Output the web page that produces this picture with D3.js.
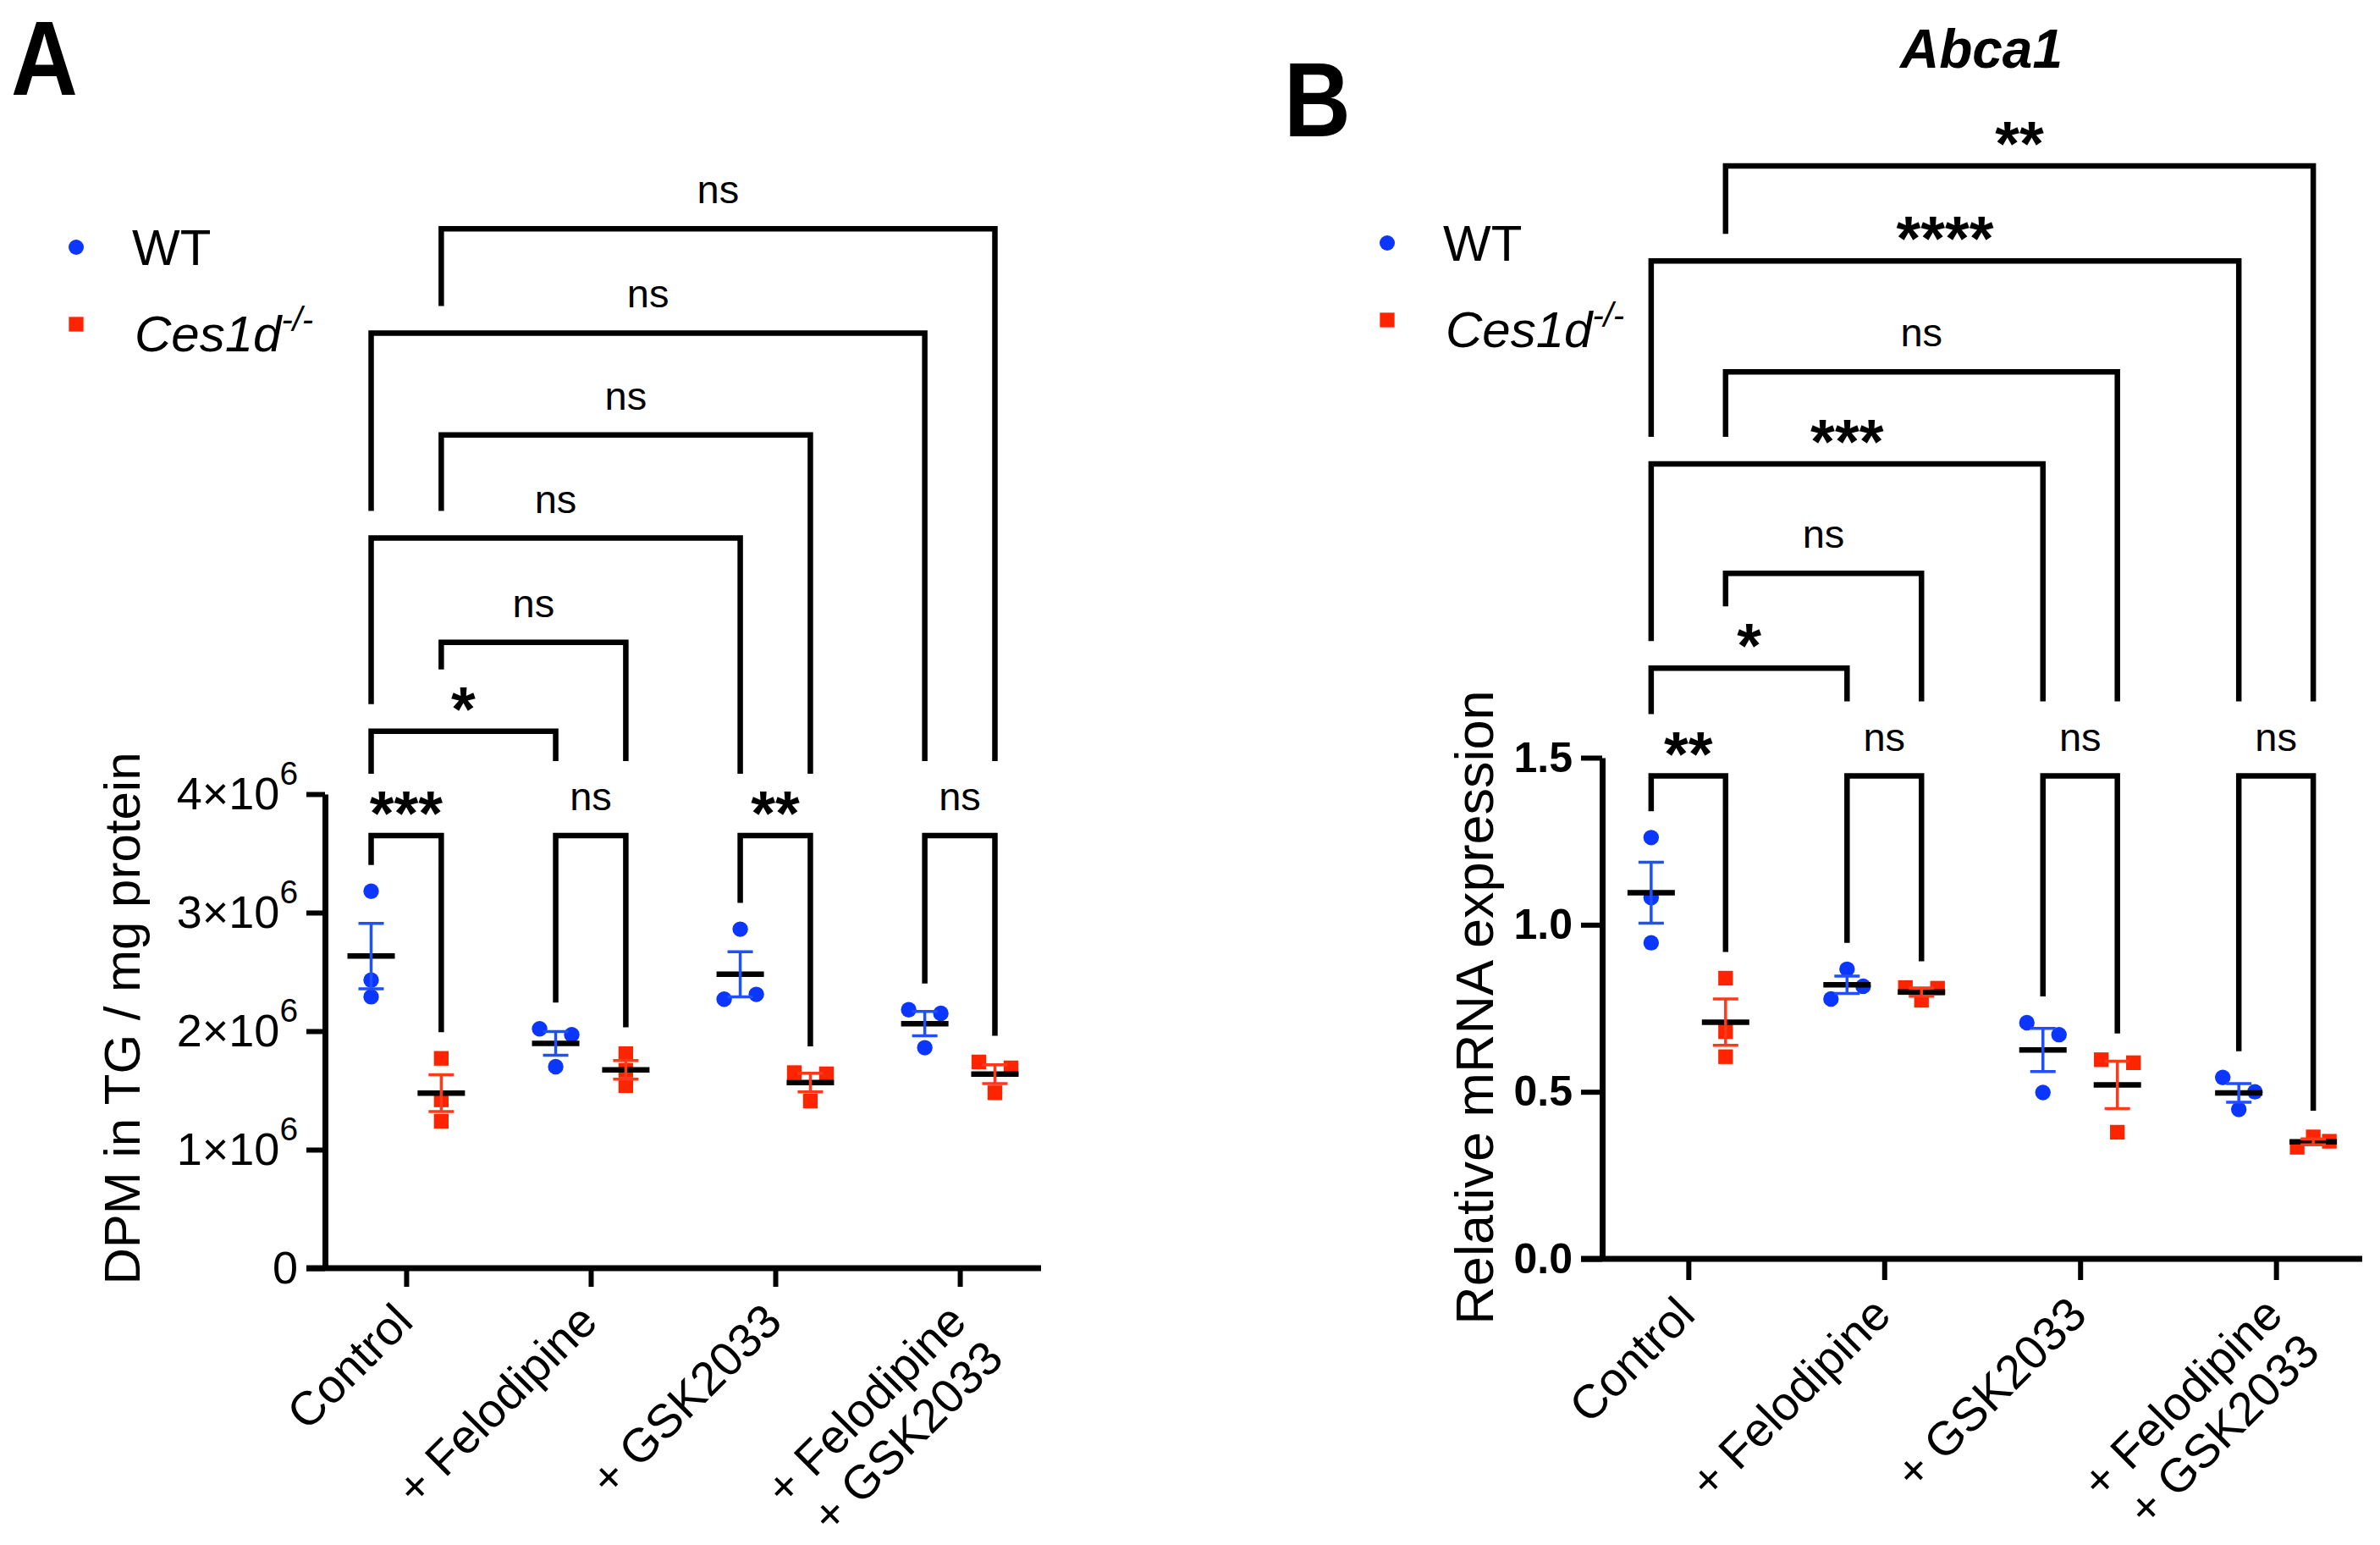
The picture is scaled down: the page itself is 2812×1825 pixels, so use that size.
<!DOCTYPE html>
<html lang="en">
  <head>
    <meta charset="utf-8">
    <style>
      body { margin: 0; background: #fff; }
      text { font-family: "Liberation Sans", Arial, sans-serif; }
    </style>
  </head>
  <body>
    <div id="viz"></div>
    <script src="https://d3js.org/d3.v7.min.js"></script>
<script type="text/javascript">

var W = 2812, H = 1825;

// categories (multi line labels as arrays)
var groups = ["Control", "Felo", "GSK", "FeloGSK"];
var groupLabels = [["Control"], ["+ Felodipine"], ["+ GSK2033"], ["+ Felodipine", "+ GSK2033"]];
var seriesNames = ["WT", "KO"];

// panel A : DPM in TG / mg protein, 3 mice per group
var tgWT = [[3.18e6, 2.43e6, 2.29e6], [2.02e6, 1.97e6, 1.70e6], [2.86e6, 2.27e6, 2.31e6], [2.18e6, 2.15e6, 1.86e6]];
var tgKO = [[1.77e6, 1.42e6, 1.24e6], [1.81e6, 1.67e6, 1.54e6], [1.65e6, 1.64e6, 1.41e6], [1.74e6, 1.69e6, 1.48e6]];
var tgTicks = [0, 1e6, 2e6, 3e6, 4e6];

// panel B : Abca1 relative mRNA
var abcaWT = [[1.261, 1.081, 0.946], [0.778, 0.867, 0.816], [0.707, 0.671, 0.498], [0.543, 0.500, 0.447]];
var abcaKO = [[0.840, 0.680, 0.605], [0.812, 0.774, 0.810], [0.596, 0.587, 0.379], [0.334, 0.365, 0.352]];
var abcaTicks = [0, 0.5, 1.0, 1.5];

// comparisons: group/series pairs, bracket height in data units, label
var tgComps = [
  {g1:0, s1:"KO", g2:3, s2:"KO", y:8.77e6, label:"ns"},
  {g1:0, s1:"WT", g2:3, s2:"WT", y:7.89e6, label:"ns"},
  {g1:0, s1:"KO", g2:2, s2:"KO", y:7.03e6, label:"ns"},
  {g1:0, s1:"WT", g2:2, s2:"WT", y:6.16e6, label:"ns"},
  {g1:0, s1:"KO", g2:1, s2:"KO", y:5.28e6, label:"ns"},
  {g1:0, s1:"WT", g2:1, s2:"WT", y:4.53e6, label:"*"},
  {g1:0, s1:"WT", g2:0, s2:"KO", y:3.65e6, label:"***"},
  {g1:1, s1:"WT", g2:1, s2:"KO", y:3.65e6, label:"ns"},
  {g1:2, s1:"WT", g2:2, s2:"KO", y:3.65e6, label:"**"},
  {g1:3, s1:"WT", g2:3, s2:"KO", y:3.65e6, label:"ns"}
];
var abcaComps = [
  {g1:0, s1:"KO", g2:3, s2:"KO", y:3.271, label:"**"},
  {g1:0, s1:"WT", g2:3, s2:"WT", y:2.987, label:"****"},
  {g1:0, s1:"KO", g2:2, s2:"KO", y:2.655, label:"ns"},
  {g1:0, s1:"WT", g2:2, s2:"WT", y:2.379, label:"***"},
  {g1:0, s1:"KO", g2:1, s2:"KO", y:2.052, label:"ns"},
  {g1:0, s1:"WT", g2:1, s2:"WT", y:1.768, label:"*"},
  {g1:0, s1:"WT", g2:0, s2:"KO", y:1.4455, label:"**"},
  {g1:1, s1:"WT", g2:1, s2:"KO", y:1.4455, label:"ns"},
  {g1:2, s1:"WT", g2:2, s2:"KO", y:1.4455, label:"ns"},
  {g1:3, s1:"WT", g2:3, s2:"KO", y:1.4455, label:"ns"}
];

var blue = "#0a36ff", blueBar = "#1f4fff";
var red = "#ff2400", redBar = "#ff3a1a";

var svg = d3.select("#viz")
        .append("svg")
        .attr("width", W)
        .attr("height", H);

svg.append("rect").attr("width", W).attr("height", H).attr("fill", "#fff");

function mean(a){ return d3.mean(a); }
function sem(a){ return d3.deviation(a) / Math.sqrt(a.length); }

// GraphPad-like spreading of points that sit too close in y
function spread(vals, y, d, thr){
  var idx = vals.map((v,i)=>i).sort((i,j)=>vals[i]-vals[j]);
  var clusters = [], cur = [idx[0]];
  for (var k = 1; k < idx.length; k++){
    if (Math.abs(y(vals[idx[k]]) - y(vals[idx[k-1]])) < thr) cur.push(idx[k]);
    else { clusters.push(cur); cur = [idx[k]]; }
  }
  clusters.push(cur);
  var off = vals.map(()=>0);
  clusters.forEach(c=>{
    c.sort((a,b)=>a-b);
    if (c.length > 1) c.forEach((i,k)=>{ off[i] = -d + k*2*d/(c.length-1); });
  });
  return off;
}

function drawPanel(o){
  var g = svg.append("g");
  var x = d3.scalePoint().domain(groups).range([o.left, o.right]).padding(0.44);
  var y = d3.scaleLinear().domain(o.domain).range([o.bottom, o.top]);
  var sOff = x.step() * 0.19;
  var data = {WT: o.wt, KO: o.ko};
  var colX = (gi, s) => x(groups[gi]) + (s == "WT" ? -sOff : sOff);
  var colMax = (gi, s) => d3.max(data[s][gi]);

  // brackets
  var items = o.comps.map(c=>{
    var x1 = colX(c.g1, c.s1), x2 = colX(c.g2, c.s2), ly = y(c.y);
    var star = c.label.indexOf("*") >= 0;
    return {c:c, x1:x1, x2:x2, ly:ly, cx:(x1+x2)/2, star:star, top: ly - (star ? 59 : 74)};
  });
  function legBottom(it, xx, gi, s){
    var b = y(colMax(gi, s)) - 31;
    items.forEach(ob=>{
      if (ob === it || ob.ly <= it.ly) return;
      if (xx >= ob.x1 - 3 && xx <= ob.x2 + 3) b = Math.min(b, ob.ly - 32);
      if (Math.abs(xx - ob.cx) <= 47) b = Math.min(b, ob.top - 14);
    });
    return b;
  }
  items.forEach(it=>{
    var b1 = legBottom(it, it.x1, it.c.g1, it.c.s1);
    var b2 = legBottom(it, it.x2, it.c.g2, it.c.s2);
    g.append("path")
      .attr("d", "M" + it.x1 + "," + b1 + "V" + it.ly + "H" + it.x2 + "V" + b2)
      .attr("fill", "none").attr("stroke", "#000").attr("stroke-width", 6.5);
    g.append("text")
      .attr("x", it.cx)
      .attr("y", it.star ? it.ly - 1 : it.ly - 30)
      .attr("text-anchor", "middle")
      .attr("font-size", it.star ? 74 : 47)
      .attr("font-weight", it.star ? "bold" : "normal")
      .text(it.c.label);
  });

  // y axis
  var ya = g.append("g").attr("transform", "translate(" + o.left + ",0)")
    .call(d3.axisLeft(y).tickValues(o.ticks).tickSize(o.tickLen).tickSizeOuter(0).tickPadding(10).tickFormat(o.fmt));
  ya.select(".domain").attr("stroke-width", 7);
  ya.selectAll(".tick line").attr("stroke-width", 6);
  ya.selectAll(".tick text").attr("font-size", o.tickFont).attr("font-weight", o.tickWeight)
    .attr("font-family", "Liberation Sans, Arial, sans-serif");
  if (o.sup) {
    ya.selectAll(".tick text").each(function(d){
      if (d == 0) return;
      var t = d3.select(this).text(null);
      t.append("tspan").text(d3.format("d")(d / 1e6) + "×10");
      t.append("tspan").attr("font-size", o.tickFont * 0.72).attr("dy", "-0.75em").text("6");
    });
  }

  // x axis
  g.append("line").attr("x1", o.left - o.tickLen).attr("x2", o.right)
    .attr("y1", o.bottom).attr("y2", o.bottom)
    .attr("stroke", "#000").attr("stroke-width", 7);
  var xa = g.append("g").attr("transform", "translate(0," + o.bottom + ")")
    .call(d3.axisBottom(x).tickSize(o.tickLen).tickSizeOuter(0).tickFormat(""));
  xa.select(".domain").remove();
  xa.selectAll(".tick line").attr("stroke-width", 6);
  xa.selectAll(".tick").append("text")
    .attr("transform", "translate(10," + (o.tickLen + 44) + ") rotate(-45)")
    .attr("text-anchor", "end")
    .attr("fill", "#000")
    .attr("font-size", 56)
    .attr("font-family", "Liberation Sans, Arial, sans-serif")
    .each(function(d, i){
      var t = d3.select(this);
      groupLabels[i].forEach((line, k)=>{
        t.append("tspan").attr("x", 0).attr("dy", k == 0 ? 0 : "1.1em").text(line);
      });
    });

  // axis title
  g.append("text")
    .attr("transform", "translate(" + o.titleX + "," + o.titleY + ") rotate(-90)")
    .attr("text-anchor", "middle")
    .attr("font-size", o.titleFont)
    .text(o.title);

  // points, means, sem
  seriesNames.forEach(s=>{
    var col = s == "WT" ? blue : red;
    var barCol = s == "WT" ? blueBar : redBar;
    var sym = d3.symbol().type(s == "WT" ? d3.symbolCircle : d3.symbolSquare).size(s == "WT" ? 265 : 300);
    data[s].forEach((vals, gi)=>{
      var cx = colX(gi, s);
      var off = spread(vals, y, 19, 17.8);
      g.selectAll(null).data(vals).enter().append("path")
        .attr("d", sym)
        .attr("fill", col)
        .attr("transform", (d,i)=>"translate(" + (cx + off[i]) + "," + y(d) + ")");
      var m = mean(vals), e = sem(vals);
      g.append("line").attr("x1", cx - 28).attr("x2", cx + 28).attr("y1", y(m)).attr("y2", y(m))
        .attr("stroke", "#000").attr("stroke-width", 6.5);
      g.append("path")
        .attr("d", "M" + (cx - 15) + "," + y(m + e) + "H" + (cx + 15) + "M" + cx + "," + y(m + e) + "V" + y(m - e) +
                   "M" + (cx - 15) + "," + y(m - e) + "H" + (cx + 15))
        .attr("fill", "none").attr("stroke", barCol).attr("stroke-width", 3.5);
    });
  });

  // legend
  var lg = g.append("g").attr("transform", "translate(" + o.legX + "," + o.legY + ")");
  lg.append("path").attr("d", d3.symbol().type(d3.symbolCircle).size(255)).attr("fill", blue);
  lg.append("path").attr("d", d3.symbol().type(d3.symbolSquare).size(300)).attr("fill", red)
    .attr("transform", "translate(0,91)");
  lg.append("text").attr("x", 66).attr("y", 21).attr("font-size", 60).text("WT");
  var ko = lg.append("text").attr("x", 69).attr("y", 123).attr("font-size", 60).attr("font-style", "italic");
  ko.append("tspan").text("Ces1d");
  ko.append("tspan").attr("font-size", 40).attr("dy", -24).text("-/-");

  // panel letter
  g.append("text")
    .attr("transform", "translate(" + o.letterX + "," + o.letterY + ") scale(0.88,1)")
    .attr("font-size", 124).attr("font-weight", "bold")
    .text(o.letter);

  return g;
}

drawPanel({
  left: 384, right: 1230, bottom: 1498, top: 938, domain: [0, 4e6],
  wt: tgWT, ko: tgKO, comps: tgComps, ticks: tgTicks,
  tickLen: 22, tickFont: 54, tickWeight: "normal", sup: true,
  fmt: d => d == 0 ? "0" : "",
  title: "DPM in TG / mg protein", titleX: 165, titleY: 1203, titleFont: 60,
  legX: 90, legY: 292, letter: "A", letterX: 13, letterY: 112
});

var gB = drawPanel({
  left: 1893, right: 2791, bottom: 1487, top: 895, domain: [0, 1.5],
  wt: abcaWT, ko: abcaKO, comps: abcaComps, ticks: abcaTicks,
  tickLen: 25, tickFont: 50, tickWeight: "bold", sup: false,
  fmt: d3.format(".1f"),
  title: "Relative mRNA expression", titleX: 1764, titleY: 1190, titleFont: 63,
  legX: 1639, legY: 287, letter: "B", letterX: 1517, letterY: 161
});

gB.append("text")
  .attr("x", 2341).attr("y", 80)
  .attr("text-anchor", "middle")
  .attr("font-size", 64).attr("font-weight", "bold").attr("font-style", "italic")
  .text("Abca1");

</script>
  </body>
</html>
